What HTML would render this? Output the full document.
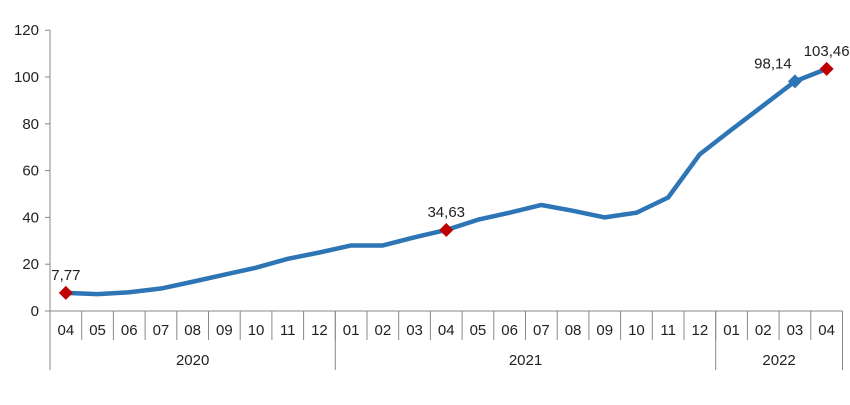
<!DOCTYPE html>
<html><head><meta charset="utf-8"><style>
body{margin:0;background:#fff;}
text{font-family:"Liberation Sans",sans-serif;font-size:15px;fill:#222;}
</style></head><body>
<svg id="chart" width="850" height="400" xmlns="http://www.w3.org/2000/svg"></svg>
<script>
const months=["04","05","06","07","08","09","10","11","12","01","02","03","04","05","06","07","08","09","10","11","12","01","02","03","04"];
const years=["2020","2021","2022"];
const yearCounts=[9,12,4];
const values=[7.77,7.2,8,9.6,12.5,15.5,18.5,22.3,25,28,28,31.5,34.63,39,42,45.3,42.8,40,42,48.5,67,77.5,87.8,98.14,103.46];
const labels=[[0,"7,77"],[12,"34,63"],[23,"98,14"],[24,"103,46"]];
const markerRed=[0,12,24];
const markerBlue=[23];
const yTicks=[0,20,40,60,80,100,120];
const svg=document.getElementById('chart');
const NS="http://www.w3.org/2000/svg";
const x0=50,cw=31.7,y0=311,ys=2.34;
const X=i=>x0+cw*(i+0.5), Y=v=>y0-v*ys;
function mk(t,a,name){const e=document.createElementNS(NS,t);for(const k in a)e.setAttribute(k,a[k]);


svg.appendChild(e);return e;}
const xEnd=x0+cw*months.length;
mk('line',{x1:x0,y1:Y(120),x2:x0,y2:370,stroke:'#888'},'y-axis');
mk('line',{x1:x0,y1:y0,x2:xEnd,y2:y0,stroke:'#888'},'x-axis');
yTicks.forEach(v=>{mk('line',{x1:x0-5,y1:Y(v),x2:x0,y2:Y(v),stroke:'#888'},'y-tick');
const t=mk('text',{x:x0-11,y:Y(v)+5,'text-anchor':'end'},'y-tick-label');t.textContent=v;});
months.forEach((m,i)=>{const t=mk('text',{x:X(i),y:335,'text-anchor':'middle'},'month-label');t.textContent=m;
if(i>0)mk('line',{x1:x0+cw*i,y1:y0,x2:x0+cw*i,y2:340,stroke:'#888'},'month-separator');});
let s=0;years.forEach((yr,k)=>{const e=s+yearCounts[k];
const t=mk('text',{x:x0+cw*(s+e)/2,y:365,'text-anchor':'middle'},'year-label');t.textContent=yr;
mk('line',{x1:x0+cw*e,y1:y0,x2:x0+cw*e,y2:370,stroke:'#888'},'year-separator');s=e;});
mk('polyline',{points:values.map((v,i)=>X(i)+','+Y(v)).join(' '),fill:'none',stroke:'#2e75b6','stroke-width':4.5,'stroke-linejoin':'round'},'series-line');
const dia=(i,c)=>{const x=X(i),y=Y(values[i]);mk('polygon',{points:`${x},${y-7} ${x+7},${y} ${x},${y+7} ${x-7},${y}`,fill:c},'data-marker');};
markerRed.forEach(i=>dia(i,'#c00000'));markerBlue.forEach(i=>dia(i,'#2e75b6'));
labels.forEach(([i,l])=>{const t=mk('text',{x:i==23?X(i)-22:X(i),y:Y(values[i])-13,'text-anchor':'middle'},'data-label');t.textContent=l;});
</script>
</body></html>
